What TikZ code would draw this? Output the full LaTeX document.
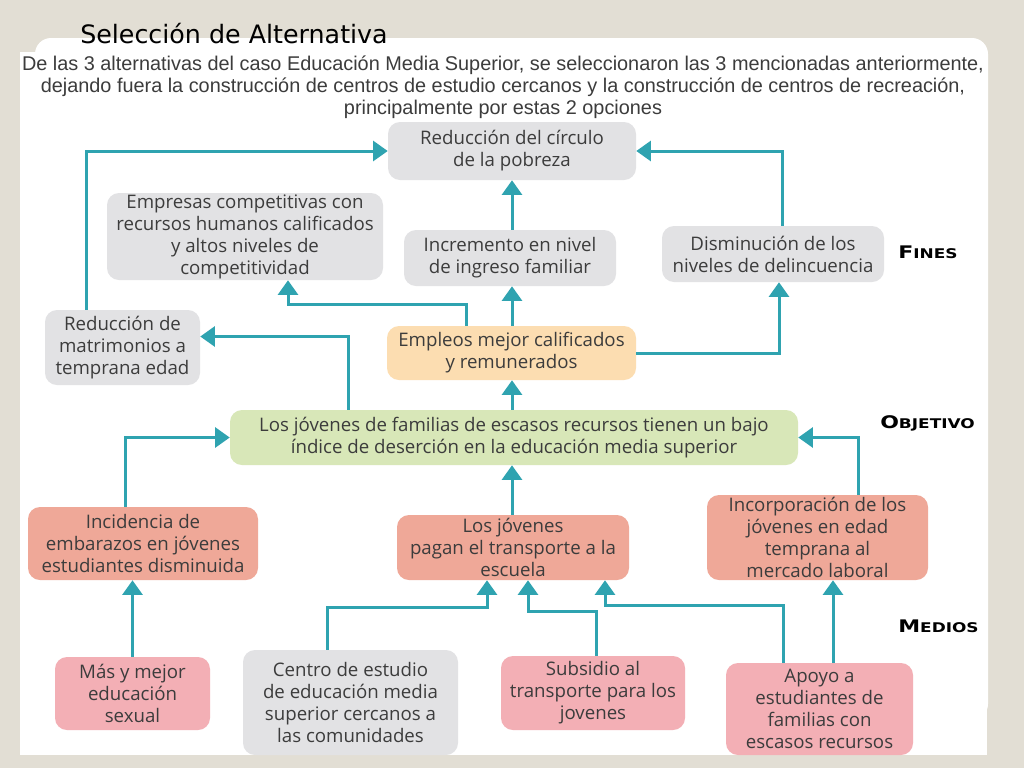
\documentclass[tikz,border=0pt]{standalone}
\usepackage{fontspec}
\setmainfont{Open Sans}
\newfontfamily\titlefont{DejaVu Sans}
\newfontfamily\notefont{Liberation Sans}
\newfontfamily\levelfont[FakeStretch=1.27]{DejaVu Sans}
\usepackage{xcolor}
\definecolor{slidebg}{HTML}{E2DED4}
\definecolor{arrowteal}{HTML}{2FA3B0}
\definecolor{boxgray}{HTML}{E2E2E4}
\definecolor{boxorange}{HTML}{FCDDB1}
\definecolor{boxgreen}{HTML}{D8E7B8}
\definecolor{boxsalmon}{HTML}{EFA898}
\definecolor{boxpink}{HTML}{F3AFB5}
\definecolor{boxtext}{HTML}{3C3C3C}
\usetikzlibrary{arrows.meta, positioning, calc}

\def\pxu{0.75pt}
\tikzset{
  treebox/.style={rounded corners=9pt, align=center, inner sep=0pt,
    text=boxtext, font=\fontsize{14}{16.5}\selectfont},
  fin/.style={treebox, fill=boxgray},
  arr/.style={draw=arrowteal, line width=2.25pt,
    -{Triangle[width=15pt,length=11pt]}},
  level/.style={font=\levelfont\bfseries, anchor=west, inner sep=0pt}
}

\begin{document}
\begin{tikzpicture}[x=\pxu, y=-\pxu]
% Slide
\fill[slidebg] (0,0) rectangle (1024,768);
\fill[white, rounded corners=12pt] (35,38) rectangle (988,720);
\fill[white] (20,52) rectangle (987,755);
\useasboundingbox (0,0) rectangle (1024,768);

% Title and note
\node[font=\titlefont\fontsize{19}{22}\selectfont, anchor=base west, inner sep=0pt] (title) at (80,43) {Selección de Alternativa};
\node[font=\notefont\fontsize{14.9}{16.5}\selectfont, align=center, text=boxtext, inner sep=0pt] (note) at (503,87)
  {De las 3 alternativas del caso Educación Media Superior, se seleccionaron las 3 mencionadas anteriormente,\\
   dejando fuera la construcción de centros de estudio cercanos y la construcción de centros de recreación,\\
   principalmente por estas 2 opciones};

% Fines
\node[fin, minimum width=248*\pxu, minimum height=58*\pxu] (pobreza) at (512,151) {Reducción del círculo\\de la pobreza};
\node[fin, minimum width=276*\pxu, minimum height=87*\pxu] (empresas) at (245,236.5) {Empresas competitivas con\\recursos humanos calificados\\y altos niveles de\\competitividad};
\node[fin, minimum width=212*\pxu, minimum height=56*\pxu] (ingreso) at (510,258) {Incremento en nivel\\de ingreso familiar};
\node[fin, minimum width=222*\pxu, minimum height=56*\pxu] (delinc) at (773,254) {Disminución de los\\niveles de delincuencia};
\node[fin, minimum width=155*\pxu, minimum height=75*\pxu] (matrim) at (122.5,347.5) {Reducción de\\matrimonios a\\temprana edad};
\node[treebox, fill=boxorange, minimum width=249*\pxu, minimum height=54*\pxu] (empleos) at (511.5,353) {Empleos mejor calificados\\y remunerados};

% Objetivo
\node[treebox, fill=boxgreen, minimum width=568*\pxu, minimum height=55*\pxu] (objetivo) at (514,437.5) {Los jóvenes de familias de escasos recursos tienen un bajo\\índice de deserción en la educación media superior};

% Medios
\node[treebox, fill=boxsalmon, minimum width=230*\pxu, minimum height=73*\pxu] (embarazo) at (143,543.5) {Incidencia de\\embarazos en jóvenes\\estudiantes disminuida};
\node[treebox, fill=boxsalmon, minimum width=232*\pxu, minimum height=65*\pxu] (transp) at (513,547.5) {Los jóvenes\\pagan el transporte a la\\escuela};
\node[treebox, fill=boxsalmon, minimum width=221*\pxu, minimum height=85*\pxu] (laboral) at (817.5,537.5) {Incorporación de los\\jóvenes en edad\\temprana al\\mercado laboral};
\node[treebox, fill=boxpink, minimum width=155*\pxu, minimum height=73*\pxu] (sexual) at (132.5,693.5) {Más y mejor\\educación\\sexual};
\node[fin, minimum width=215*\pxu, minimum height=105*\pxu] (centro) at (350.5,702.5) {Centro de estudio\\de educación media\\superior cercanos a\\las comunidades};
\node[treebox, fill=boxpink, minimum width=184*\pxu, minimum height=74*\pxu] (subsidio) at (593,693) {Subsidio al\\transporte para los\\jovenes};
\node[treebox, fill=boxpink, minimum width=187*\pxu, minimum height=92*\pxu] (apoyo) at (819.5,709) {Apoyo a\\estudiantes de\\familias con\\escasos recursos};

% Level labels
\node[level] (lfines) at (898,252) {\fontsize{13}{14}\selectfont F\fontsize{10}{14}\selectfont INES};
\node[level] (lobj) at (880,423) {\fontsize{13}{14}\selectfont O\fontsize{10}{14}\selectfont BJETIVO};
\node[level] (lmed) at (898,626) {\fontsize{13}{14}\selectfont M\fontsize{10}{14}\selectfont EDIOS};

% Arrows between the fines
\draw[arr] ([xshift=0.5*\pxu]empleos.north) -- ([xshift=0.5*\pxu]empleos.north |- ingreso.south);
\draw[arr] (pobreza.south |- ingreso.north) -- (pobreza.south);
\draw[arr] ([xshift=-36*\pxu]matrim.north) |- (pobreza.west);
\draw[arr] ([xshift=9*\pxu]delinc.north) |- (pobreza.east);
\draw[arr] ([xshift=-45.5*\pxu]empleos.north) -- ++(0,-21) -| ([xshift=43*\pxu]empresas.south);
\draw[arr] (empleos.east) -| ([xshift=6*\pxu]delinc.south);
\draw[arr] ([xshift=-166*\pxu]objetivo.north) |- ([yshift=11*\pxu]matrim.east);
\draw[arr] ([xshift=-2*\pxu]objetivo.north) -- ([xshift=-2*\pxu]objetivo.north |- empleos.south);

% Arrows into the objective
\draw[arr] ([xshift=-18*\pxu]embarazo.north) |- (objetivo.west);
\draw[arr] ([xshift=40.5*\pxu]laboral.north) |- (objetivo.east);
\draw[arr] ([xshift=-1*\pxu]transp.north) -- ([xshift=-1*\pxu]transp.north |- objetivo.south);

% Arrows from the medios
\draw[arr] (sexual.north) -- (sexual.north |- embarazo.south);
\draw[arr] ([xshift=-23.5*\pxu]centro.north) -- ++(0,-42) -| ([xshift=-26*\pxu]transp.south);
\draw[arr] ([xshift=3*\pxu]subsidio.north) -- ++(0,-44) -| ([xshift=15*\pxu]transp.south);
\draw[arr] ([xshift=-36.5*\pxu]apoyo.north) -- ++(0,-57) -| ([xshift=92*\pxu]transp.south);
\draw[arr] ([xshift=13.5*\pxu]apoyo.north) -- ([xshift=13.5*\pxu]apoyo.north |- laboral.south);
\end{tikzpicture}
\end{document}
